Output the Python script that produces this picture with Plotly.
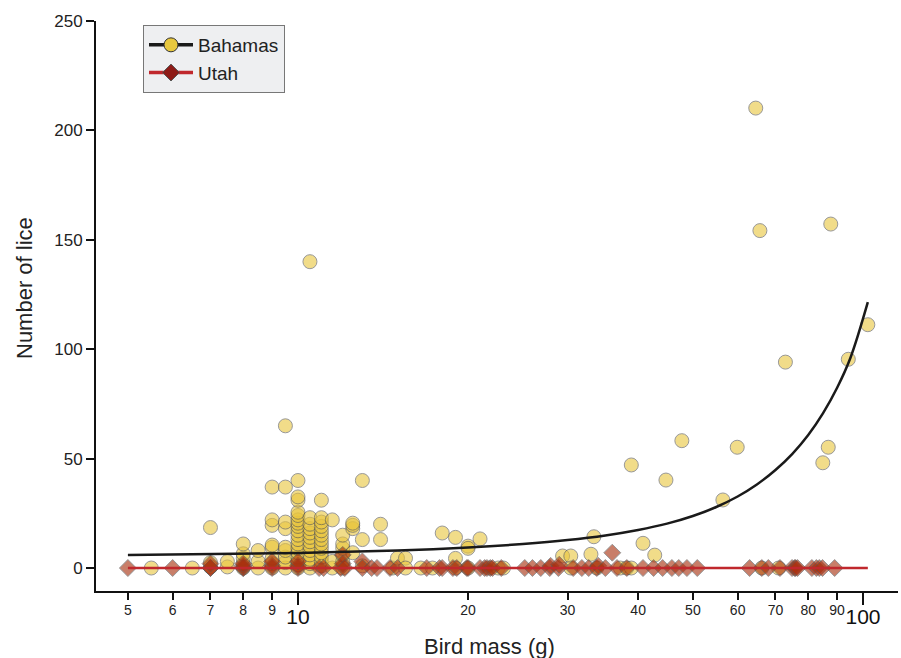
import plotly.graph_objects as go

# ---------------- data ----------------
bah_mass = [5.5, 6.5, 7.0, 7.0, 7.0, 7.5, 7.5,
            8.0, 8.0, 8.0, 8.0, 8.0, 8.5, 8.5, 8.5,
            9.0, 9.0, 9.0, 9.0, 9.0, 9.0, 9.0, 9.0,
            9.5, 9.5, 9.5, 9.5, 9.5, 9.5, 9.5, 9.5, 9.5,
            10, 10, 10, 10, 10, 10, 10, 10, 10, 10, 10, 10, 10, 10, 10, 10, 10, 10,
            10.5, 10.5, 10.5, 10.5, 10.5, 10.5, 10.5, 10.5, 10.5, 10.5, 10.5, 10.5, 10.5,
            11, 11, 11, 11, 11, 11, 11, 11, 11, 11, 11, 11, 11,
            11.5, 11.5, 11.5,
            12, 12, 12, 12, 12, 12,
            12.5, 12.5, 12.5, 12.5,
            13, 13, 13, 14, 14,
            14.7, 15.0, 15.5, 15.5, 16.5, 17.3,
            18.0, 19.0, 19.0, 19.0, 20.0, 20.0, 20.0, 21.0,
            21.8, 22.6, 23.1,
            29.4, 30.4, 30.4, 33.0, 33.4, 33.8,
            37.2, 38.2, 38.9, 38.9, 40.8, 42.8, 44.8, 47.8,
            56.5, 59.9, 64.6, 65.7, 66.2, 70.9, 72.9,
            84.9, 86.8, 87.7, 94.2, 102]
bah_lice = [0, 0, 0.5, 2.5, 18.5, 0.5, 3,
            0, 2, 4.5, 6.5, 11, 0, 3, 8,
            0, 2, 4.5, 9.5, 10.5, 19.5, 22, 37,
            0, 2.5, 5, 8, 9.5, 18, 21, 37, 65,
            0, 1.5, 3, 5, 7, 9, 11, 13, 15, 17, 19, 20.5, 22, 24, 25.5, 31, 32.5, 40,
            0, 2, 4, 6, 8, 10, 12, 14, 16, 18, 20, 23, 140,
            1, 3, 5, 7, 9, 11, 13, 15, 17, 19, 21, 23, 31,
            0, 3, 22,
            0, 3, 6, 9, 11, 15,
            7, 18, 19.5, 20.5,
            1, 13, 40, 13, 20,
            0, 4.5, 4.5, 0, 0, 0,
            16, 14, 4.4, 0, 10, 9, 0, 13.3,
            0, 0, 0,
            5.5, 5.5, 0, 6.3, 14.3, 0,
            0, 0, 0, 47.1, 11.3, 5.9, 40.2, 58.2,
            31.1, 55.2, 210.2, 154.2, 0, 0, 94.1,
            48.1, 55.2, 157.2, 95.4, 111.2]

utah_mass = [5, 6, 7, 7, 7, 8, 8, 8, 8, 9, 9, 9, 10, 10, 10,
             10.9, 11.1, 11.9, 12.0, 12.0, 12.1, 13.0, 13.0, 13.5, 13.8, 14.55, 15.0,
             16.9, 17.8, 18.0, 18.8, 19.1, 19.9, 20.0, 21.0, 21.4, 21.6, 21.9, 22.1, 22.9,
             25.2, 26.0, 26.9, 27.9, 28.0, 28.9, 29.0, 30.7, 31.8, 32.7, 33.8, 34.0,
             35.0, 36.0, 36.7, 38.2, 40.8, 42.6, 44.2, 45.9, 47.2, 48.8, 50.9,
             63.0, 66.2, 68.0, 71.3, 74.9, 75.7, 76.0, 76.6, 81.2, 82.7, 83.7, 84.8, 89.1]
utah_lice = [0, 0, 0, 0, 2, 0, 0, 1, 2, 0, 1, 3, 0, 1, 3,
             0, 0, 0, 6, 2, 0, 3, 0, 0, 0, 0, 0,
             0, 0, 0, 0, 0, 0, 0, 0, 0, 0, 0, 0, 0,
             0, 0, 0, 0, 1, 0, 1.5, 0, 0, 0, 0, 1,
             0, 7, 0, 0, 0, 0, 0, 0, 0, 0, 0,
             0, 0, 0, 0, 0, 0, 0, 0, 0, 0, 0, 0, 0]

# fitted curves
bah_fit_mass = [5, 10, 15, 20, 25, 30, 35, 40, 45, 50, 55, 60, 65, 70, 75, 80, 85, 90, 95, 102]
bah_fit_lice = [5.9, 6.9, 8.0, 9.4, 11.0, 12.8, 14.9, 17.4, 20.3, 23.8, 27.9, 32.7, 38.3,
                44.8, 52.2, 60.8, 70.8, 82.4, 96.0, 121.5]
utah_fit_mass = [5, 102]
utah_fit_lice = [0, 0]

x_small_ticks = [5, 6, 7, 8, 9, 20, 30, 40, 50, 60, 70, 80, 90]
x_big_ticks = [10, 100]
y_ticks = [0, 50, 100, 150, 200, 250]

FONT = "Liberation Sans, Arial, Helvetica, sans-serif"
X_RANGE = [0.6425, 2.062]

fig = go.Figure()

fig.add_trace(go.Scatter(
    x=bah_mass, y=bah_lice, mode="markers", showlegend=False, hoverinfo="skip",
    marker=dict(symbol="circle", size=14, color="#e9c53c", opacity=0.6,
                line=dict(color="#555555", width=1))))
fig.add_trace(go.Scatter(
    x=utah_mass, y=utah_lice, mode="markers", showlegend=False, hoverinfo="skip",
    marker=dict(symbol="diamond", size=13, color="#a8300f", opacity=0.62,
                line=dict(color="#555555", width=1))))
fig.add_trace(go.Scatter(
    x=bah_fit_mass, y=bah_fit_lice, mode="lines", showlegend=False, hoverinfo="skip",
    line=dict(color="#1a1a1a", width=2.5, shape="spline")))
fig.add_trace(go.Scatter(
    x=utah_fit_mass, y=utah_fit_lice, mode="lines", showlegend=False, hoverinfo="skip",
    line=dict(color="#c0282d", width=2.5)))

# legend entries
fig.add_trace(go.Scatter(
    x=[None], y=[None], mode="lines+markers", name="Bahamas",
    line=dict(color="#1a1a1a", width=3.5),
    marker=dict(symbol="circle", size=14, color="#e8c83e", line=dict(color="#333333", width=1))))
fig.add_trace(go.Scatter(
    x=[None], y=[None], mode="lines+markers", name="Utah",
    line=dict(color="#c0282d", width=3.5),
    marker=dict(symbol="diamond", size=13, color="#8e1b17", line=dict(color="#555555", width=1))))

# dummy trace so the overlaid axis for big tick labels is drawn
fig.add_trace(go.Scatter(x=[None], y=[None], xaxis="x2", showlegend=False, hoverinfo="skip"))

fig.update_layout(
    width=901, height=658,
    margin=dict(l=96, r=3, t=21, b=67, autoexpand=False),
    paper_bgcolor="white", plot_bgcolor="white",
    font=dict(family=FONT, color="#222222"),
    xaxis=dict(type="log", range=X_RANGE, tickmode="array", tickvals=x_small_ticks,
               ticktext=[str(v) for v in x_small_ticks],
               ticks="outside", ticklen=7, tickwidth=1.5, tickcolor="#111111",
               showline=True, linewidth=2, linecolor="#111111", ticklabelstandoff=-2,
               showgrid=False, zeroline=False, tickfont=dict(size=14, color="#222222")),
    xaxis2=dict(type="log", range=X_RANGE, overlaying="x", anchor="y", side="bottom",
                tickmode="array", tickvals=x_big_ticks,
                ticktext=[str(v) for v in x_big_ticks],
                ticks="outside", ticklen=13, tickwidth=2, tickcolor="#111111",
                ticklabelstandoff=-6,
                showline=False, showgrid=False, zeroline=False,
                tickfont=dict(size=21, color="#111111")),
    yaxis=dict(range=[-10.5, 250], tickmode="array", tickvals=y_ticks,
               ticks="outside", ticklen=8, tickwidth=1.5, tickcolor="#111111",
               showline=True, linewidth=2, linecolor="#111111",
               showgrid=False, zeroline=False, tickfont=dict(size=17, color="#222222")),
    legend=dict(x=0.0586, y=0.993, xanchor="left", yanchor="top",
                bgcolor="#eeeff1", bordercolor="#777777", borderwidth=1,
                font=dict(size=19, color="#222222"), itemwidth=44),
    annotations=[
        dict(text="Number of lice", xref="paper", yref="paper", x=-0.0885, y=0.5316,
             xanchor="center", yanchor="middle", textangle=-90, showarrow=False,
             font=dict(size=22, color="#222222")),
        dict(text="Bird mass (g)", xref="paper", yref="paper", x=0.491, y=-0.098,
             xanchor="center", yanchor="middle", showarrow=False,
             font=dict(size=22, color="#222222")),
    ],
)

fig.write_html("out.html", config={"displayModeBar": False},
               post_script="document.body.style.margin='0';")
